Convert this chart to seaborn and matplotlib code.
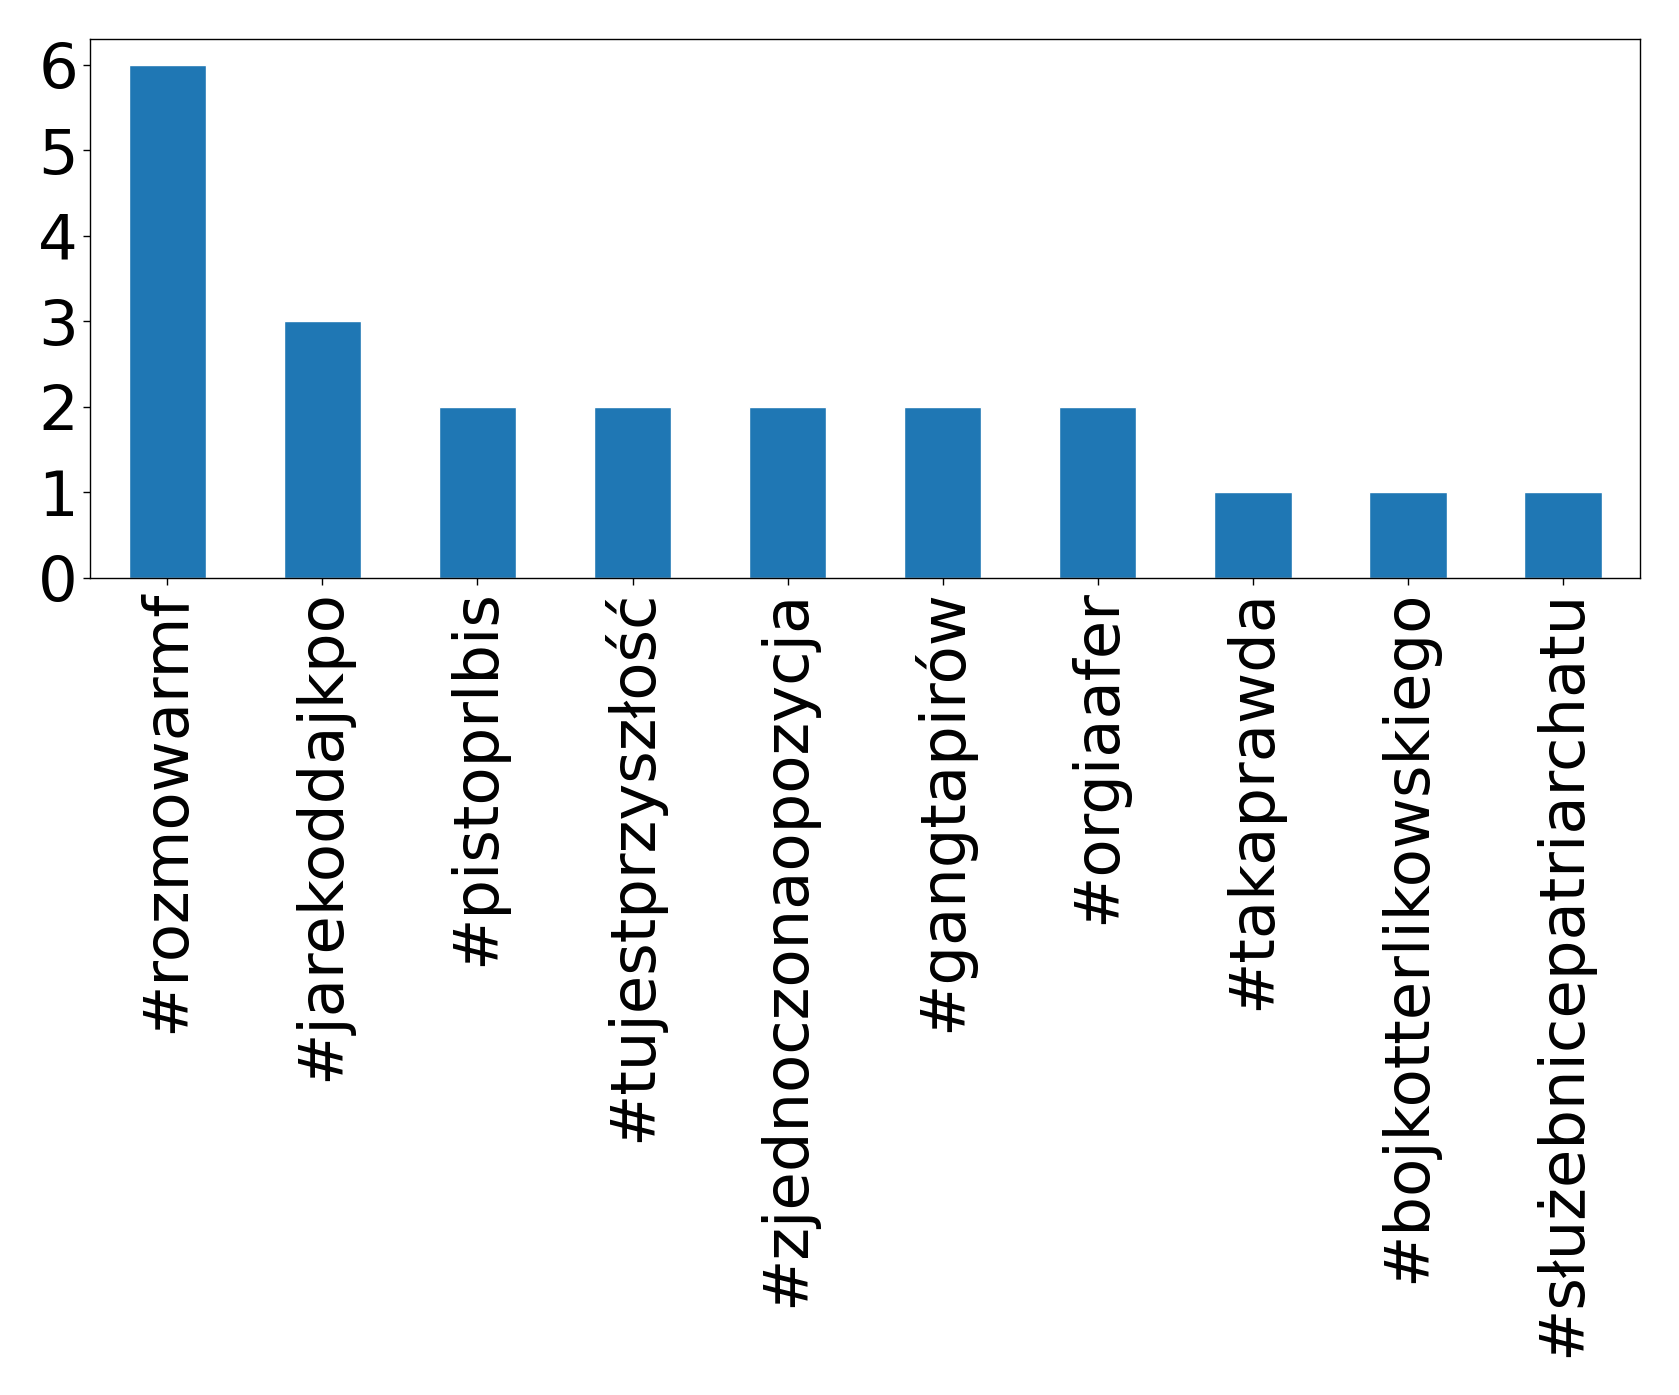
import pandas as pd
import matplotlib
matplotlib.use("Agg")
import matplotlib.pyplot as plt
import seaborn as sns

hashtagi = [
    '#rozmowarmf', '#jarekoddajkpo', '#pistoprlbis', '#tujestprzyszłość',
    '#zjednoczonaopozycja', '#gangtapirów', '#orgiaafer', '#takaprawda',
    '#bojkotterlikowskiego', '#służebnicepatriarchatu'
]
liczba = [6, 3, 2, 2, 2, 2, 2, 1, 1, 1]


def main():
    df = pd.DataFrame({'Hashtag': hashtagi, 'Liczba': liczba})

    sns.set_style("white")
    plt.rcParams['font.family'] = ['DejaVu Sans']

    fig = plt.figure(figsize=(16.79, 13.95), dpi=100)
    ax = fig.add_axes([0.0535, 0.586, 0.9235, 0.386])

    sns.barplot(data=df, x='Hashtag', y='Liczba', color='#1f77b4',
                saturation=1, width=0.5, ax=ax)

    ax.set_xlim(-0.5, len(hashtagi) - 0.5)
    ax.set_ylim(0, max(liczba) * 1.05)
    ax.set_yticks(range(0, max(liczba) + 1))
    ax.set_xlabel('')
    ax.set_ylabel('')
    ax.tick_params(axis='both', labelsize=45, length=5, width=1,
                   color='black', labelcolor='black', bottom=True, left=True)
    plt.setp(ax.get_xticklabels(), rotation=90)
    for s in ax.spines.values():
        s.set_color('black')
        s.set_linewidth(1)

    fig.savefig('out.png', dpi=100)


if __name__ == "__main__":
    main()
